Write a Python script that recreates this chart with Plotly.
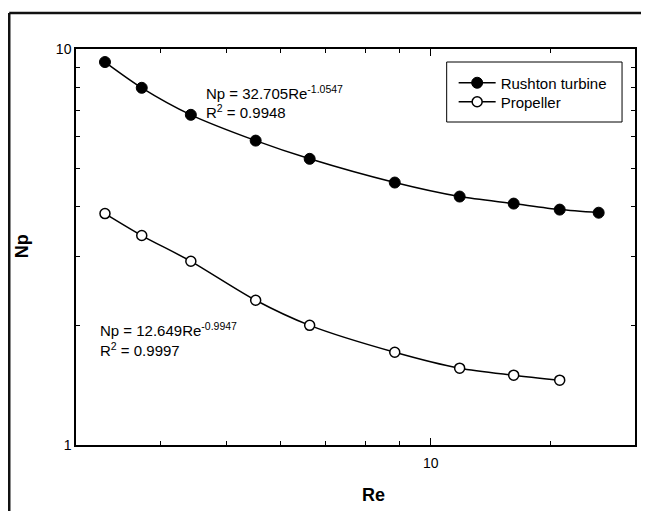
import math
import plotly.graph_objects as go

# ---- data ----
re_rushton = [3.31, 3.75, 4.43, 5.52, 6.63, 8.85, 11.03, 13.25, 15.49, 17.68]
np_rushton = [9.27, 7.98, 6.82, 5.87, 5.28, 4.60, 4.24, 4.07, 3.93, 3.86]
re_propeller = [3.31, 3.75, 4.43, 5.52, 6.63, 8.85, 11.03, 13.25, 15.49]
np_propeller = [3.84, 3.38, 2.91, 2.32, 2.005, 1.715, 1.563, 1.501, 1.458]

x_major_ticks = [10]
x_major_labels = ["10"]
x_minor_ticks = [4, 5, 6, 7, 8, 9, 15]
y_major_ticks = [1, 10]
y_major_labels = ["1", "10"]
y_minor_ticks = [2, 3, 4, 5, 6, 7, 8, 9]

FONT = "Liberation Sans, Arial, sans-serif"
OFF = 8                      # page body margin
W, H = 649 - OFF, 511 - OFF  # figure size that fits in the window
# plot area in page pixels: left 76, right 637, top 49, bottom 445
L, T = 76 - OFF, 49 - OFF
R = W - (637 - OFF)
B = H - (445 - OFF)
PW, PH = W - L - R, H - T - B


def px(x):  # page x -> paper x
    return (x - OFF - L) / PW


def py(y):  # page y -> paper y
    return (H - B - (y - OFF)) / PH


fig = go.Figure()
fig.add_trace(go.Scatter(
    x=re_rushton, y=np_rushton, mode="lines+markers", name="Rushton turbine",
    line=dict(color="black", width=1.5, shape="spline", smoothing=0.8),
    marker=dict(symbol="circle", size=11, color="black", line=dict(color="black", width=1)),
    legend="legend",
))
fig.add_trace(go.Scatter(
    x=re_propeller, y=np_propeller, mode="lines+markers", name="Propeller",
    line=dict(color="black", width=1.5, shape="spline", smoothing=0.8),
    marker=dict(symbol="circle", size=10, color="white", line=dict(color="black", width=1.5)),
    legend="legend2",
))

axis_common = dict(
    showgrid=False, zeroline=False, showline=True, linecolor="black", linewidth=1.5,
    ticks="inside", tickcolor="black", tickwidth=1, mirror="ticks",
    tickfont=dict(family=FONT, size=14, color="black"),
)

fig.update_xaxes(
    type="log", range=[math.log10(3), math.log10(20)],
    tickmode="array", tickvals=x_major_ticks, ticktext=x_major_labels, ticklen=7,
    ticklabelstandoff=4,
    minor=dict(tickmode="array", tickvals=x_minor_ticks, ticks="inside", ticklen=4,
               tickcolor="black", tickwidth=1, showgrid=False),
    **axis_common,
)
fig.update_yaxes(
    type="log", range=[0, 1],
    tickmode="array", tickvals=y_major_ticks, ticktext=y_major_labels, ticklen=6,
    minor=dict(tickmode="array", tickvals=y_minor_ticks, ticks="inside", ticklen=4,
               tickcolor="black", tickwidth=1, showgrid=False),
    **axis_common,
)

annos = [
    dict(text="Np = 32.705Re<sup>-1.0547</sup>", x=px(204), y=py(92)),
    dict(text="R<sup>2</sup> = 0.9948", x=px(204), y=py(112)),
    dict(text="Np = 12.649Re<sup>-0.9947</sup>", x=px(98), y=py(329)),
    dict(text="R<sup>2</sup> = 0.9997", x=px(98), y=py(349)),
]
for a in annos:
    fig.add_annotation(xref="paper", yref="paper", xanchor="left", yanchor="middle",
                       showarrow=False, font=dict(family=FONT, size=15, color="black"), **a)

fig.add_annotation(xref="paper", yref="paper", x=px(375), y=py(495), text="<b>Re</b>",
                   showarrow=False, xanchor="center", yanchor="middle",
                   font=dict(family=FONT, size=18, color="black"))
fig.add_annotation(xref="paper", yref="paper", x=px(22), y=py(246), text="<b>Np</b>",
                   showarrow=False, xanchor="center", yanchor="middle", textangle=-90,
                   font=dict(family=FONT, size=18, color="black"))

# outer frame of the figure (top and left edges visible)
fig.add_shape(type="line", xref="paper", yref="paper", x0=px(9), x1=px(660), y0=py(13), y1=py(13),
              line=dict(color="#111", width=2.5))
fig.add_shape(type="line", xref="paper", yref="paper", x0=px(9), x1=px(9), y0=py(13), y1=py(520),
              line=dict(color="#111", width=2.5))

# legend frame
fig.add_shape(type="rect", xref="paper", yref="paper", x0=px(448), x1=px(624), y0=py(62), y1=py(122),
              line=dict(color="black", width=1), fillcolor="white", layer="below")

leg_common = dict(xanchor="left", yanchor="middle", borderwidth=0, bgcolor="rgba(0,0,0,0)",
                  font=dict(family=FONT, size=15, color="black"), itemwidth=37)
fig.update_layout(
    width=W, height=H, margin=dict(l=L, r=R, t=T, b=B),
    paper_bgcolor="white", plot_bgcolor="white",
    showlegend=True,
    legend=dict(x=px(455), y=py(83), **leg_common),
    legend2=dict(x=px(455), y=py(102), **leg_common),
)

fig.write_html("out.html")
